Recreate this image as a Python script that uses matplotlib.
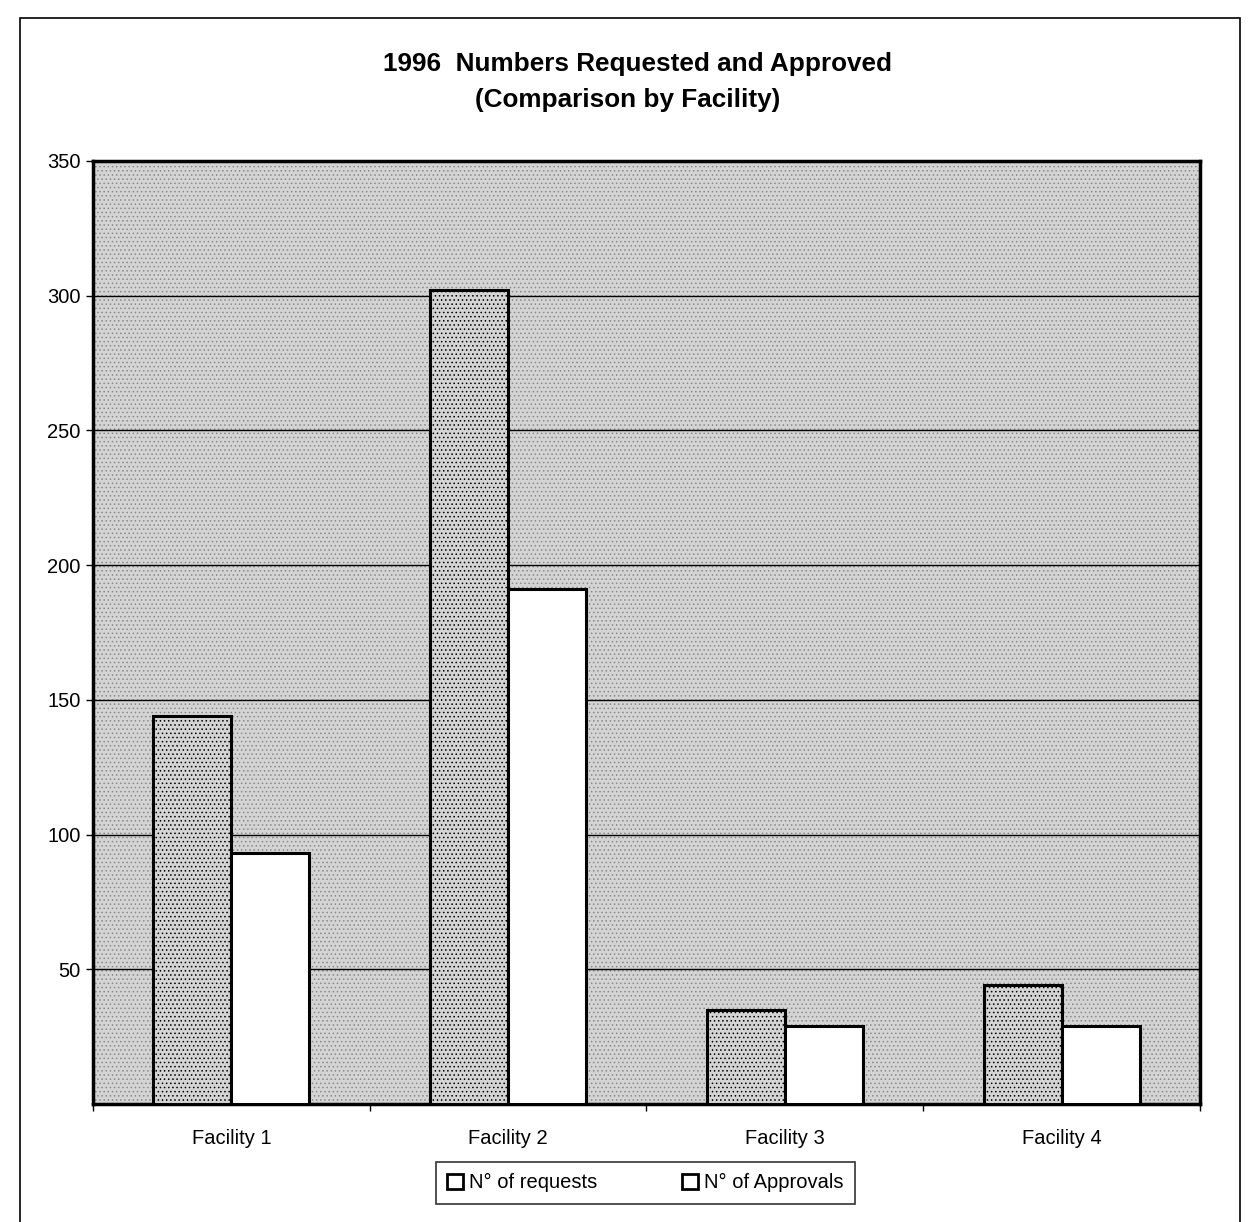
import numpy as np
import matplotlib.pyplot as plt
from matplotlib.patches import Rectangle

plt.rcParams['font.family'] = ['Liberation Sans', 'DejaVu Sans']
plt.rcParams['hatch.linewidth'] = 0.6

facilities = ['Facility 1', 'Facility 2', 'Facility 3', 'Facility 4']
requests = [144, 302, 35, 44]
approvals = [93, 191, 29, 29]
yticks = [50, 100, 150, 200, 250, 300, 350]

fig = plt.figure(figsize=(12.58, 12.22), dpi=100)
ax = fig.add_axes([0.0739, 0.0966, 0.880, 0.7717])

# dotted gray background like the old printout
ax.set_facecolor('#d4d4d4')
ax.add_patch(Rectangle((0, 0), 1, 1, transform=ax.transAxes, facecolor='none',
                       edgecolor='#8a8a8a', hatch='....', linewidth=0, zorder=0))

x = np.arange(len(facilities))
w = 0.282
ax.bar(x - w / 2, requests, w, color='#d4d4d4', edgecolor='black', linewidth=2.2,
       hatch='....', zorder=3, label='N° of requests')
ax.bar(x + w / 2, approvals, w, color='white', edgecolor='black', linewidth=2.2,
       zorder=3, label='N° of Approvals')

ax.set_xlim(-0.5, 3.5)
ax.set_ylim(0, 350)
ax.set_yticks(yticks)
ax.set_yticklabels([str(v) for v in yticks], fontsize=14.5)
ax.yaxis.grid(True, color='black', linewidth=1.0)
ax.set_axisbelow(True)

ax.set_xticks(x)
ax.set_xticklabels(facilities, fontsize=14.5)
ax.tick_params(axis='x', which='major', length=0, pad=18)
ax.set_xticks(np.arange(-0.5, 4.0, 1.0), minor=True)
ax.tick_params(axis='x', which='minor', length=5, width=1, direction='out')
ax.tick_params(axis='y', length=5, width=1, direction='out', pad=4)

for s in ax.spines.values():
    s.set_linewidth(2.5)

fig.text(0.507, 0.948, '1996  Numbers Requested and Approved', ha='center',
         va='center', fontsize=18.8, fontweight='bold')
fig.text(0.499, 0.918, '(Comparison by Facility)', ha='center', va='center',
         fontsize=18.8, fontweight='bold')

leg = fig.legend(loc='center', bbox_to_anchor=(0.513, 0.032), ncol=2, fontsize=14.5,
                 frameon=True, fancybox=False, edgecolor='black', handlelength=0.8,
                 handleheight=0.8, columnspacing=4.2, handletextpad=0.3,
                 borderpad=0.55, borderaxespad=0)
leg.get_frame().set_linewidth(1.2)
for h in leg.legend_handles:
    h.set_facecolor('white')
    h.set_hatch(None)
    h.set_linewidth(2)

# outer page border
fig.add_artist(Rectangle((0.016, -0.01), 0.97, 0.995, transform=fig.transFigure,
                         fill=False, edgecolor='black', linewidth=1.2))

fig.savefig('out.png', dpi=100)
